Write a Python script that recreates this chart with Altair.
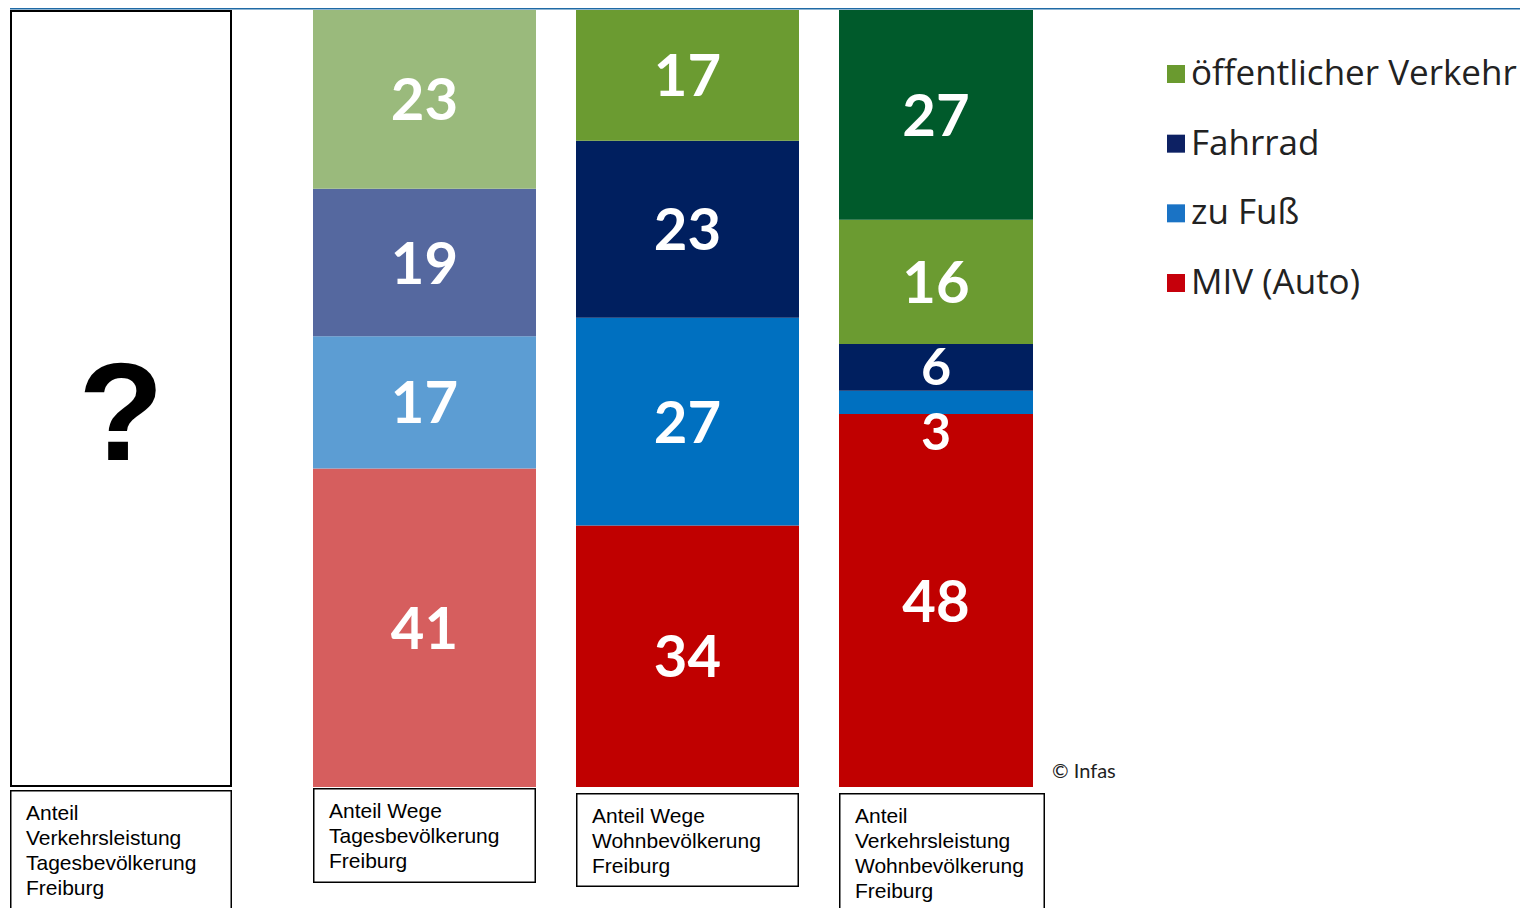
import altair as alt
import pandas as pd

# ---- data ----
modes4 = ["MIV (Auto)", "zu Fuß", "Fahrrad", "öffentlicher Verkehr"]
modes5 = ["MIV (Auto)", "zu Fuß", "Fahrrad", "öffentlicher Verkehr", "öffentlicher Verkehr (weitere)"]
wege_tages = [41, 17, 19, 23]
wege_wohn = [34, 27, 23, 17]
vl_wohn = [48, 3, 6, 16, 27]

colors_pale = ["#d65e5e", "#5c9dd3", "#55689f", "#9aba7c"]
colors_solid = ["#c00000", "#0070c0", "#001f5f", "#6b9b31"]
colors_vl = ["#c00000", "#0070c0", "#001f5f", "#6b9b31", "#005a2b"]

box_labels = [
    "Anteil\nVerkehrsleistung\nTagesbevölkerung\nFreiburg",
    "Anteil Wege\nTagesbevölkerung\nFreiburg",
    "Anteil Wege\nWohnbevölkerung\nFreiburg",
    "Anteil\nVerkehrsleistung\nWohnbevölkerung\nFreiburg",
]
unknown_mark = "?"

legend_names = ["öffentlicher Verkehr", "Fahrrad", "zu Fuß", "MIV (Auto)"]
legend_colors = ["#6a9a2f", "#0d2163", "#1a73c5", "#c6000b"]
source_note = "© Infas"

panels = ["Wege Tagesbevölkerung", "Wege Wohnbevölkerung", "Verkehrsleistung Wohnbevölkerung"]

BAR_H = 777

all_keys = ([f"{panels[0]}|{m}" for m in modes4] + [f"{panels[1]}|{m}" for m in modes4]
            + [f"{panels[2]}|{m}" for m in modes5])
all_cols = colors_pale + colors_solid + colors_vl
color_scale = alt.Scale(domain=all_keys, range=all_cols)

NUM_FONT = dict(font="Lato", fontWeight="bold", color="white", baseline="middle")


def bar_panel(panel, names, values, width):
    df = pd.DataFrame({
        "panel": panel,
        "mode": names,
        "value": values,
        "order": list(range(len(values))),
        "key": [f"{panel}|{m}" for m in names],
    })
    base = alt.Chart(df).transform_stack(
        stack="value", groupby=["panel"], sort=[alt.SortField("order", order="ascending")],
        as_=["y0", "y1"], offset="normalize",
    ).transform_calculate(mid="(datum.y0 + datum.y1) / 2")
    x = alt.X("panel:N", axis=None, scale=alt.Scale(paddingInner=0, paddingOuter=0))
    ysc = alt.Scale(domain=[0, 1], nice=False)
    bars = base.mark_bar().encode(
        x=x,
        y=alt.Y("y0:Q", axis=None, scale=ysc),
        y2="y1:Q",
        color=alt.Color("key:N", scale=color_scale, legend=None),
    )
    big = base.transform_filter("datum.value >= 10").mark_text(dy=4, fontSize=58, **NUM_FONT).encode(
        x=x, y=alt.Y("mid:Q", axis=None, scale=ysc), text="value:Q")
    mid6 = base.transform_filter("datum.value >= 5 && datum.value < 10").mark_text(
        dy=2, fontSize=52, **NUM_FONT).encode(
        x=x, y=alt.Y("mid:Q", axis=None, scale=ysc), text="value:Q")
    small = base.transform_filter("datum.value < 5").mark_text(dy=32, fontSize=52, **NUM_FONT).encode(
        x=x, y=alt.Y("mid:Q", axis=None, scale=ysc), text="value:Q")
    return alt.layer(bars, big, mid6, small).properties(width=width, height=BAR_H)


def label_panel(text, width, height):
    df = pd.DataFrame({"label": [text]})
    box = alt.Chart(df).mark_rect(fill="white", stroke="black", strokeWidth=1.5).encode(
        x=alt.value(0.75), x2=alt.value(width - 0.75), y=alt.value(0.75), y2=alt.value(height - 0.75)
    )
    t = alt.Chart(df).mark_text(
        font="Liberation Sans", fontSize=21, align="left", baseline="top",
        lineBreak="\n", lineHeight=25, color="black",
    ).encode(x=alt.value(16), y=alt.value(13), text="label:N")
    return alt.layer(box, t).properties(width=width, height=height)


def question_panel(width):
    df = pd.DataFrame({"t": [unknown_mark]})
    box = alt.Chart(df).mark_rect(fill="white", stroke="black", strokeWidth=2).encode(
        x=alt.value(1), x2=alt.value(width - 1), y=alt.value(1), y2=alt.value(BAR_H - 1)
    )
    q = alt.Chart(df).mark_text(
        font="Liberation Sans", fontWeight="bold", fontSize=140, color="black",
        align="center", baseline="alphabetic",
    ).encode(x=alt.value(width / 2), y=alt.value(450), text="t:N")
    return alt.layer(box, q).properties(width=width, height=BAR_H)


def legend_panel(width):
    df = pd.DataFrame({"name": legend_names, "color": legend_colors})
    ysc = alt.Scale(type="point", domain=legend_names, range=[64, 273], padding=0)
    sq = alt.Chart(df).mark_square(size=324, opacity=1).encode(
        x=alt.value(127),
        y=alt.Y("name:N", axis=None, scale=ysc),
        color=alt.Color("color:N", scale=None, legend=None),
    )
    tx = alt.Chart(df).mark_text(
        font="Open Sans", fontSize=35, align="left", baseline="middle", color="#222222"
    ).encode(x=alt.value(142), y=alt.Y("name:N", axis=None, scale=ysc), text="name:N")
    note = alt.Chart(pd.DataFrame({"t": [source_note]})).mark_text(
        font="Lato", fontSize=20, align="left", baseline="middle", color="#222222"
    ).encode(x=alt.value(3), y=alt.value(762), text="t:N")
    return alt.layer(sq, tx, note).properties(width=width, height=BAR_H)


col1 = alt.vconcat(question_panel(222), label_panel(box_labels[0], 222, 130), spacing=3)
col2 = alt.vconcat(bar_panel(panels[0], modes4, wege_tages, 223),
                   label_panel(box_labels[1], 223, 95), spacing=1)
col3 = alt.vconcat(bar_panel(panels[1], modes4, wege_wohn, 223),
                   label_panel(box_labels[2], 223, 94), spacing=6)
col4 = alt.vconcat(bar_panel(panels[2], modes5, vl_wohn, 194),
                   label_panel(box_labels[3], 206, 130), spacing=6)

mid = alt.hconcat(col2, col3, col4, spacing=40)
left = alt.hconcat(col1, mid, spacing=81)
body = alt.hconcat(left, legend_panel(460), spacing=4)

line = alt.Chart(pd.DataFrame({"a": [0]})).mark_rect(color="#1f6aa5").encode(
    x=alt.value(0), x2=alt.value(1510), y=alt.value(0), y2=alt.value(1.5)
).properties(width=1510, height=2)

chart = alt.vconcat(line, body, spacing=0).properties(
    padding={"left": 2, "top": 0, "right": 0, "bottom": 0},
    background="white",
).configure_view(stroke=None)

chart.save("out.html", embed_options={"renderer": "svg", "actions": False})
